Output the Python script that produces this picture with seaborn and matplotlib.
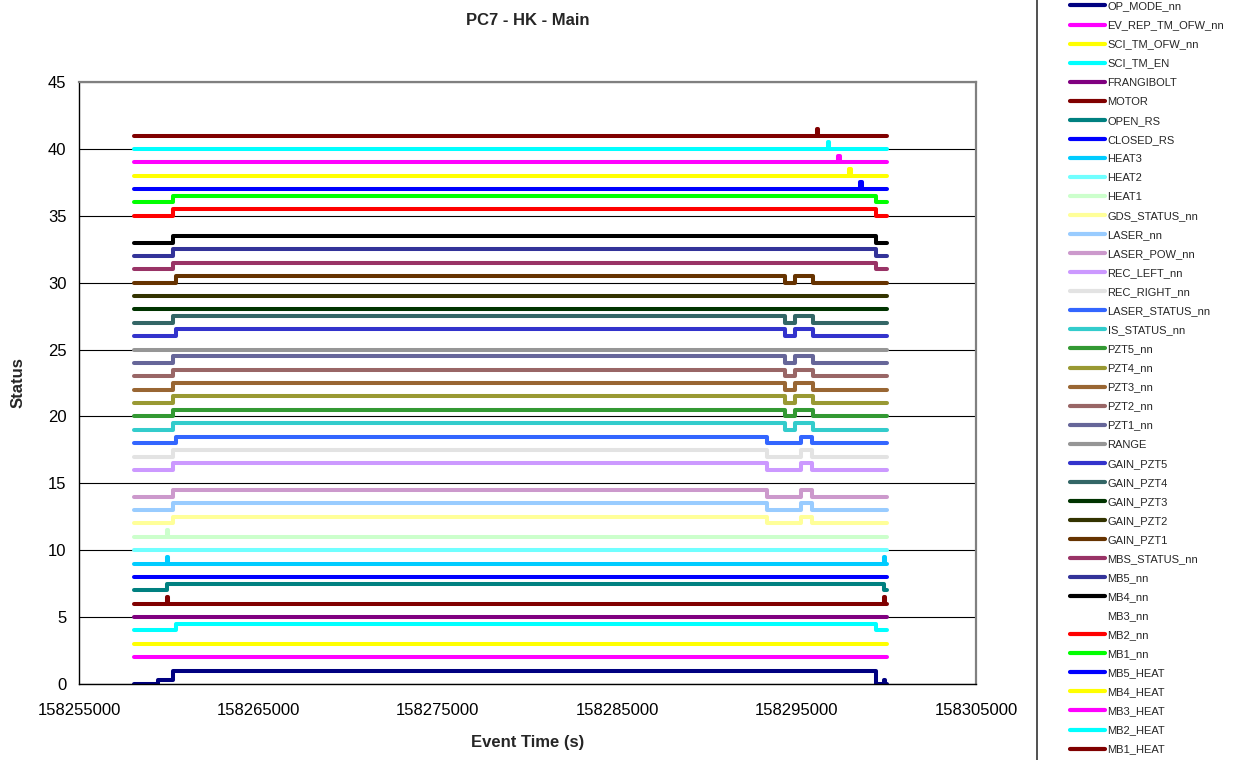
import seaborn as sns
import matplotlib.pyplot as plt
import pandas as pd
from matplotlib.ticker import FuncFormatter

# Nomi delle serie (ordine della legenda) e colori
names = ["OP_MODE_nn", "EV_REP_TM_OFW_nn", "SCI_TM_OFW_nn", "SCI_TM_EN", "FRANGIBOLT",
         "MOTOR", "OPEN_RS", "CLOSED_RS", "HEAT3", "HEAT2", "HEAT1", "GDS_STATUS_nn",
         "LASER_nn", "LASER_POW_nn", "REC_LEFT_nn", "REC_RIGHT_nn", "LASER_STATUS_nn",
         "IS_STATUS_nn", "PZT5_nn", "PZT4_nn", "PZT3_nn", "PZT2_nn", "PZT1_nn", "RANGE",
         "GAIN_PZT5", "GAIN_PZT4", "GAIN_PZT3", "GAIN_PZT2", "GAIN_PZT1", "MBS_STATUS_nn",
         "MB5_nn", "MB4_nn", "MB3_nn", "MB2_nn", "MB1_nn", "MB5_HEAT", "MB4_HEAT",
         "MB3_HEAT", "MB2_HEAT", "MB1_HEAT"]
colors = ["#000080", "#FF00FF", "#FFFF00", "#00FFFF", "#800080",
          "#800000", "#008080", "#0000FF", "#00CCFF", "#70FFFF", "#CCFFCC", "#FFFF99",
          "#99CCFF", "#CC99CC", "#CC99FF", "#E3E3E3", "#3366FF",
          "#33CCCC", "#339933", "#999933", "#996633", "#996666", "#666699", "#969696",
          "#3333CC", "#336666", "#003300", "#333300", "#663300", "#993366",
          "#333399", "#000000", "#FFFFFF", "#FF0000", "#00FF00", "#0000FF", "#FFFF00",
          "#FF00FF", "#00FFFF", "#800000"]

# Tempi degli eventi (s)
T0 = 158258050
T_OP = 158259390
T_SP = 158259890
T_UP = 158260220
T_UP2 = 158260380
T_L1, T_L2, T_L3 = 158293370, 158295270, 158295880
T_P1, T_P2, T_P3 = 158294380, 158294930, 158295940
T_MB = [158298560, 158297940, 158297330, 158296730, 158296140]  # MB5..MB1 heat
T_DN = 158299400
T_X = 158299860
T1 = 158300050
W = 80  # larghezza impulsi

# Cambi di stato per serie: (tempo, valore)
steps = [
    [(T0, 0), (T_OP, 0.3), (T_UP, 1), (T_DN, 0), (T_X, 0.3), (T_X + W, 0)],
    [(T0, 2)],
    [(T0, 3)],
    [(T0, 4), (T_UP2, 4.5), (T_DN, 4)],
    [(T0, 5)],
    [(T0, 6), (T_SP, 6.5), (T_SP + W, 6), (T_X, 6.5), (T_X + W, 6)],
    [(T0, 7), (T_SP, 7.5), (T_X, 7)],
    [(T0, 8)],
    [(T0, 9), (T_SP, 9.5), (T_SP + W, 9), (T_X, 9.5), (T_X + W, 9)],
    [(T0, 10)],
    [(T0, 11), (T_SP, 11.5), (T_SP + W, 11)],
    [(T0, 12), (T_UP, 12.5), (T_L1, 12), (T_L2, 12.5), (T_L3, 12)],
    [(T0, 13), (T_UP, 13.5), (T_L1, 13), (T_L2, 13.5), (T_L3, 13)],
    [(T0, 14), (T_UP, 14.5), (T_L1, 14), (T_L2, 14.5), (T_L3, 14)],
    [(T0, 16), (T_UP, 16.5), (T_L1, 16), (T_L2, 16.5), (T_L3, 16)],
    [(T0, 17), (T_UP, 17.5), (T_L1, 17), (T_L2, 17.5), (T_L3, 17)],
    [(T0, 18), (T_UP2, 18.5), (T_L1, 18), (T_L2, 18.5), (T_L3, 18)],
    [(T0, 19), (T_UP, 19.5), (T_P1, 19), (T_P2, 19.5), (T_P3, 19)],
    [(T0, 20), (T_UP, 20.5), (T_P1, 20), (T_P2, 20.5), (T_P3, 20)],
    [(T0, 21), (T_UP, 21.5), (T_P1, 21), (T_P2, 21.5), (T_P3, 21)],
    [(T0, 22), (T_UP, 22.5), (T_P1, 22), (T_P2, 22.5), (T_P3, 22)],
    [(T0, 23), (T_UP, 23.5), (T_P1, 23), (T_P2, 23.5), (T_P3, 23)],
    [(T0, 24), (T_UP, 24.5), (T_P1, 24), (T_P2, 24.5), (T_P3, 24)],
    [(T0, 25)],
    [(T0, 26), (T_UP2, 26.5), (T_P1, 26), (T_P2, 26.5), (T_P3, 26)],
    [(T0, 27), (T_UP, 27.5), (T_P1, 27), (T_P2, 27.5), (T_P3, 27)],
    [(T0, 28)],
    [(T0, 29)],
    [(T0, 30), (T_UP2, 30.5), (T_P1, 30), (T_P2, 30.5), (T_P3, 30)],
    [(T0, 31), (T_UP, 31.5), (T_DN, 31)],
    [(T0, 32), (T_UP, 32.5), (T_DN, 32)],
    [(T0, 33), (T_UP, 33.5), (T_DN, 33)],
    [(T0, 34), (T_UP, 34.5), (T_DN, 34)],
    [(T0, 35), (T_UP, 35.5), (T_DN, 35)],
    [(T0, 36), (T_UP, 36.5), (T_DN, 36)],
    [(T0, 37), (T_MB[0], 37.5), (T_MB[0] + W, 37)],
    [(T0, 38), (T_MB[1], 38.5), (T_MB[1] + W, 38)],
    [(T0, 39), (T_MB[2], 39.5), (T_MB[2] + W, 39)],
    [(T0, 40), (T_MB[3], 40.5), (T_MB[3] + W, 40)],
    [(T0, 41), (T_MB[4], 41.5), (T_MB[4] + W, 41)],
]

sns.set_style("white")
plt.rcParams['font.family'] = ['Liberation Sans', 'DejaVu Sans']

fig = plt.figure(figsize=(12.49, 7.6), dpi=100)
ax = fig.add_axes([79 / 1249, 1 - 684 / 760, (976 - 79) / 1249, (684 - 82) / 760])

for name, col, st in zip(names, colors, steps):
    pts = st + [(T1, st[-1][1])]
    df = pd.DataFrame(pts, columns=["t", "v"])
    sns.lineplot(data=df, x="t", y="v", color=col, lw=2.9, drawstyle="steps-post",
                 estimator=None, sort=False, label=name, ax=ax)

ax.set_xlim(158255000, 158305000)
ax.set_ylim(0, 45)
ax.set_xticks(range(158255000, 158305001, 10000))
ax.set_yticks(range(0, 46, 5))
ax.xaxis.set_major_formatter(FuncFormatter(lambda v, p: f"{v:.0f}"))
ax.yaxis.grid(True, color="black", lw=0.8)
ax.set_axisbelow(True)
ax.tick_params(axis="both", direction="out", length=4, width=1, labelsize=12, colors="black")
ax.tick_params(axis="x", pad=10)
ax.tick_params(axis="y", pad=5)
for s in ["left", "bottom"]:
    ax.spines[s].set_color("black")
    ax.spines[s].set_linewidth(1)
for s in ["top", "right"]:
    ax.spines[s].set_color("#808080")
    ax.spines[s].set_linewidth(1.6)

ax.set_title("PC7 - HK - Main", fontsize=12, fontweight="bold", pad=41)
ax.set_xlabel("Event Time (s)", fontsize=12, fontweight="bold", labelpad=12)
ax.set_ylabel("Status", fontsize=12, fontweight="bold", labelpad=16)

leg = ax.legend(loc="upper left", bbox_to_anchor=(1037 / 1249, 1 + 32 / 760),
                bbox_transform=fig.transFigure, fontsize=8, frameon=True, fancybox=False,
                edgecolor="black", borderpad=3.0, labelspacing=0.815, handlelength=3.1,
                handletextpad=0.25, borderaxespad=0)
leg.get_frame().set_linewidth(1.2)
for h in leg.get_lines():
    h.set_linewidth(3)

fig.savefig("out.png", dpi=100)
